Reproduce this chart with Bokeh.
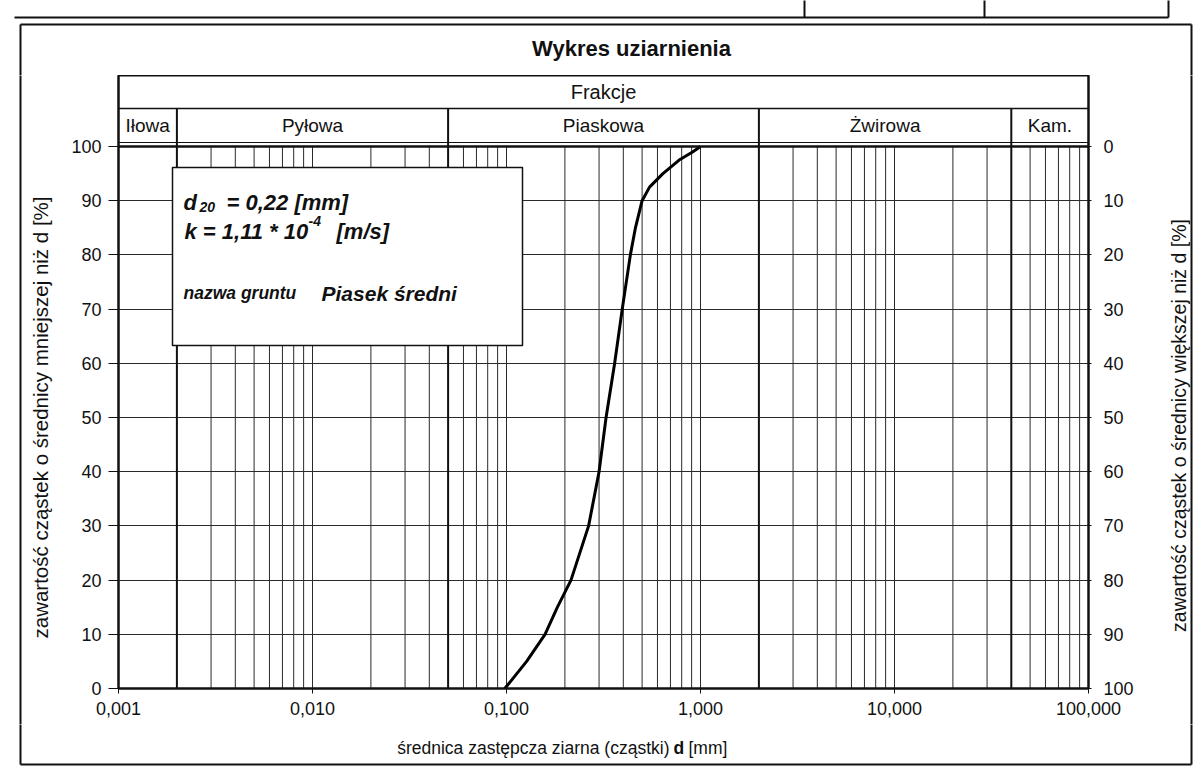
import math
from bokeh.plotting import figure
from bokeh.layouts import column, row
from bokeh.models import (Range1d, LinearAxis, FixedTicker, CustomJSTickFormatter,
                          Label, BoxAnnotation, Span)
from bokeh.embed import file_html
from bokeh.resources import INLINE

# ---------------- data ----------------
TITLE = "Wykres uziarnienia"
HEADER = "Frakcje"
FRACTION_NAMES = ["Iłowa", "Pyłowa", "Piaskowa", "Żwirowa", "Kam."]
FRACTION_EDGES = [0.001, 0.002, 0.05, 2.0, 40.0, 100.0]

# grain size curve (d [mm], % passing)
D_MM = [0.098, 0.127, 0.158, 0.183, 0.215, 0.265, 0.300, 0.326, 0.361,
        0.395, 0.435, 0.462, 0.500, 0.546, 0.640, 0.776, 0.910, 1.000]
PASSING = [0, 5, 10, 15, 20, 30, 40, 50, 60,
           70, 80, 85, 90, 92.5, 95, 97.5, 99, 100]

X_TICKS = [0.001, 0.01, 0.1, 1.0, 10.0, 100.0]
Y_TICKS = [0, 10, 20, 30, 40, 50, 60, 70, 80, 90, 100]

X_LABEL_MAIN = "średnica zastępcza ziarna (cząstki)"
X_LABEL_BOLD = "d"
X_LABEL_UNIT = "[mm]"
Y_LABEL_LEFT = "zawartość cząstek o średnicy mniejszej niż d [%]"
Y_LABEL_RIGHT = "zawartość cząstek o średnicy większej niż d [%]"

BOX_D20 = ("d", "20", "= 0,22  [mm]")
BOX_K = ("k = 1,11 * 10", "-4", "[m/s]")
BOX_NAME_LBL = "nazwa gruntu"
BOX_NAME = "Piasek średni"

# ---------------- layout (screen px) ----------------
TOTAL_W = 1195
FR_L, FR_R = 118, 1088          # frame left/right (screen)
FR_T, FR_B = 75, 688            # frame top/bottom (screen)
PLOT_T = 146                    # screen y of 100 %
TOP_H = FR_T                    # strip above main figure (title, doc frame)
ROW_H = 724 - FR_T              # main row height
FOOT_H = 46                     # footer
LEFT_W = 62                     # left label strip
RIGHT_W = 55                    # right label strip
MAIN_W = TOTAL_W - LEFT_W - RIGHT_W

PX_PCT = (FR_B - PLOT_T) / 100.0
Y_TOP = 100 + (PLOT_T - FR_T) / PX_PCT
DEC = (FR_R - FR_L) / 5.0

FONT = "Liberation Sans"
INK = "#111111"
FRAME_BOX = (20, 1191, 24, 764)   # outer document frame l, r, t, b


def px2x(sx):
    return 10 ** (-3 + (sx - FR_L) / DEC)


def px2y(sy):
    return (FR_B - sy) / PX_PCT


def plain_fig(w, h, x0, x1, y0, y1):
    f = figure(width=w, height=h, x_range=Range1d(x0, x1), y_range=Range1d(y1, y0),
               x_axis_location=None, y_axis_location=None,
               output_backend="svg", toolbar_location=None, min_border=0)
    f.outline_line_color = None
    f.grid.visible = False
    f.background_fill_color = "white"
    f.border_fill_color = "white"
    return f


# ---------------- main chart ----------------
ROW_TOP = TOP_H
p = figure(width=MAIN_W, height=ROW_H, x_axis_type="log",
           x_range=Range1d(0.001, 100), y_range=Range1d(0, Y_TOP),
           output_backend="svg", toolbar_location=None,
           min_border_left=FR_L - LEFT_W, min_border_right=LEFT_W + MAIN_W - FR_R,
           min_border_top=0, min_border_bottom=ROW_TOP + ROW_H - FR_B)
p.background_fill_color = "white"
p.border_fill_color = "white"
p.outline_line_color = INK
p.outline_line_width = 2
p.xgrid.visible = False
p.ygrid.ticker = FixedTicker(ticks=Y_TICKS[1:-1])
p.ygrid.grid_line_color = "#2a2a2a"
p.ygrid.grid_line_width = 1

# vertical log grid lines inside 0..100 %
grid_x = []
for n in range(-3, 2):
    for k in range(1, 10):
        v = k * 10 ** n
        if 0.001 < v < 100 and all(abs(v - e) > 1e-9 for e in FRACTION_EDGES):
            grid_x.append(v)
p.segment(x0=grid_x, y0=0, x1=grid_x, y1=100, line_color="#2a2a2a", line_width=1)

ROW_SPLIT = px2y(108)
ROW_BOTTOM = 100 + 4 / PX_PCT

# fraction boundaries (thick) through plot and fraction row
edges_inner = FRACTION_EDGES[1:-1]
p.segment(x0=edges_inner, y0=0, x1=edges_inner, y1=ROW_SPLIT,
          line_color=INK, line_width=2)

# header lines
p.add_layout(Span(location=100, dimension="width", line_color=INK, line_width=2.5))
p.add_layout(Span(location=ROW_BOTTOM, dimension="width", line_color=INK, line_width=1.2))
p.add_layout(Span(location=ROW_SPLIT, dimension="width", line_color=INK, line_width=1.5))

# curve
p.line(D_MM, PASSING, line_color="black", line_width=3)

# header texts
for name, a, b in zip(FRACTION_NAMES, FRACTION_EDGES[:-1], FRACTION_EDGES[1:]):
    p.add_layout(Label(x=math.sqrt(a * b), y=(ROW_BOTTOM + ROW_SPLIT) / 2, text=name,
                       text_align="center", text_baseline="middle",
                       text_font=FONT, text_font_size="19px", text_color=INK))
p.add_layout(Label(x=math.sqrt(0.001 * 100), y=(ROW_SPLIT + Y_TOP) / 2, text=HEADER,
                   text_align="center", text_baseline="middle",
                   text_font=FONT, text_font_size="20px", text_color=INK))

# axes
p.yaxis.ticker = FixedTicker(ticks=Y_TICKS)
ax_style = dict(major_label_text_font=FONT, major_label_text_font_size="18px",
                major_label_text_color=INK, axis_line_color=INK, axis_line_width=2,
                major_tick_line_color=INK, minor_tick_line_color=None)
for k, v in ax_style.items():
    setattr(p.yaxis[0], k, v)
    setattr(p.xaxis[0], k, v)
p.yaxis.major_tick_out = 10
p.yaxis.major_tick_in = 0
p.yaxis.major_label_standoff = 7

p.xaxis.ticker = FixedTicker(ticks=X_TICKS)
p.xaxis.formatter = CustomJSTickFormatter(code="return tick.toFixed(3).replace('.', ',');")
p.xaxis.major_tick_out = 5
p.xaxis.major_tick_in = 0
p.xaxis.major_label_standoff = 8

p.extra_y_ranges = {"right": Range1d(start=100, end=100 - Y_TOP)}
ax_r = LinearAxis(y_range_name="right", ticker=FixedTicker(ticks=Y_TICKS), **ax_style)
ax_r.major_tick_out = 3
ax_r.major_tick_in = 0
ax_r.major_label_standoff = 12
p.add_layout(ax_r, "right")

# info box
p.add_layout(BoxAnnotation(left=px2x(172), right=px2x(522), bottom=px2y(345), top=px2y(167),
                           fill_color="white", fill_alpha=1.0, line_color=INK,
                           line_alpha=1.0, line_width=1.5))


def box_text(sx, sy, txt, size):
    p.add_layout(Label(x=px2x(sx), y=px2y(sy), text=txt, text_align="left",
                       text_baseline="alphabetic", text_font=FONT,
                       text_font_size=size, text_font_style="bold italic",
                       text_color=INK))


box_text(183, 202, BOX_D20[0], "22px")
box_text(199, 206, BOX_D20[1], "14px")
box_text(226, 202, BOX_D20[2], "22px")
box_text(184, 231, BOX_K[0], "22px")
box_text(308, 220, BOX_K[1], "14px")
box_text(336, 231, BOX_K[2], "22px")
box_text(183, 292, BOX_NAME_LBL, "17.5px")
box_text(321, 293, BOX_NAME, "21px")

# ---------------- surrounding strips ----------------
fl, fr_, ft, fb = FRAME_BOX
PAD = 6   # extend frame lines past each strip's edge so they join up

top = plain_fig(TOTAL_W, TOP_H, 0, TOTAL_W, 0, TOP_H)
top.segment(x0=[14, 804, 984, 1168, fl, fl, fr_], y0=[17, -PAD, -PAD, -PAD, ft, ft, ft],
            x1=[1168, 804, 984, 1168, fr_, fl, fr_],
            y1=[17, 17, 17, 17, ft, TOP_H + PAD, TOP_H + PAD],
            line_color=INK, line_width=2)
top.add_layout(Label(x=631, y=48, text=TITLE, text_align="center", text_baseline="middle",
                     text_font=FONT, text_font_size="22px", text_font_style="bold",
                     text_color=INK))

left = plain_fig(LEFT_W, ROW_H, 0, LEFT_W, ROW_TOP, ROW_TOP + ROW_H)
left.segment(x0=[fl], y0=[ROW_TOP - PAD], x1=[fl], y1=[ROW_TOP + ROW_H + PAD],
             line_color=INK, line_width=2)
left.add_layout(Label(x=40, y=(PLOT_T + FR_B) / 2, text=Y_LABEL_LEFT, angle=math.pi / 2,
                      text_align="center", text_baseline="middle",
                      text_font=FONT, text_font_size="20.5px", text_color=INK))

right = plain_fig(RIGHT_W, ROW_H, LEFT_W + MAIN_W, TOTAL_W, ROW_TOP, ROW_TOP + ROW_H)
right.segment(x0=[fr_], y0=[ROW_TOP - PAD], x1=[fr_], y1=[ROW_TOP + ROW_H + PAD],
              line_color=INK, line_width=2)
right.add_layout(Label(x=1178, y=(PLOT_T + FR_B) / 2 + 8, text=Y_LABEL_RIGHT, angle=math.pi / 2,
                       text_align="center", text_baseline="middle",
                       text_font=FONT, text_font_size="19.5px", text_color=INK))

FOOT_TOP = ROW_TOP + ROW_H
foot = plain_fig(TOTAL_W, FOOT_H, 0, TOTAL_W, FOOT_TOP, FOOT_TOP + FOOT_H)
foot.segment(x0=[fl, fr_, fl], y0=[FOOT_TOP - PAD, FOOT_TOP - PAD, fb],
             x1=[fl, fr_, fr_], y1=[fb, fb, fb],
             line_color=INK, line_width=2)
XL_BASE = 747
foot.add_layout(Label(x=669, y=XL_BASE, text=X_LABEL_MAIN, text_align="right",
                      text_baseline="alphabetic", text_font=FONT, text_font_size="17.5px",
                      text_color=INK))
foot.add_layout(Label(x=673, y=XL_BASE, text=X_LABEL_BOLD, text_align="left",
                      text_baseline="alphabetic", text_font=FONT, text_font_size="17.5px",
                      text_font_style="bold", text_color=INK))
foot.add_layout(Label(x=688, y=XL_BASE, text=X_LABEL_UNIT, text_align="left",
                      text_baseline="alphabetic", text_font=FONT, text_font_size="17.5px",
                      text_color=INK))

# side strips wrapped in columns so they keep their own full-height frames
layout = column(top, row(column(left), p, column(right)), foot)
open("out.html", "w").write(file_html(layout, INLINE))
